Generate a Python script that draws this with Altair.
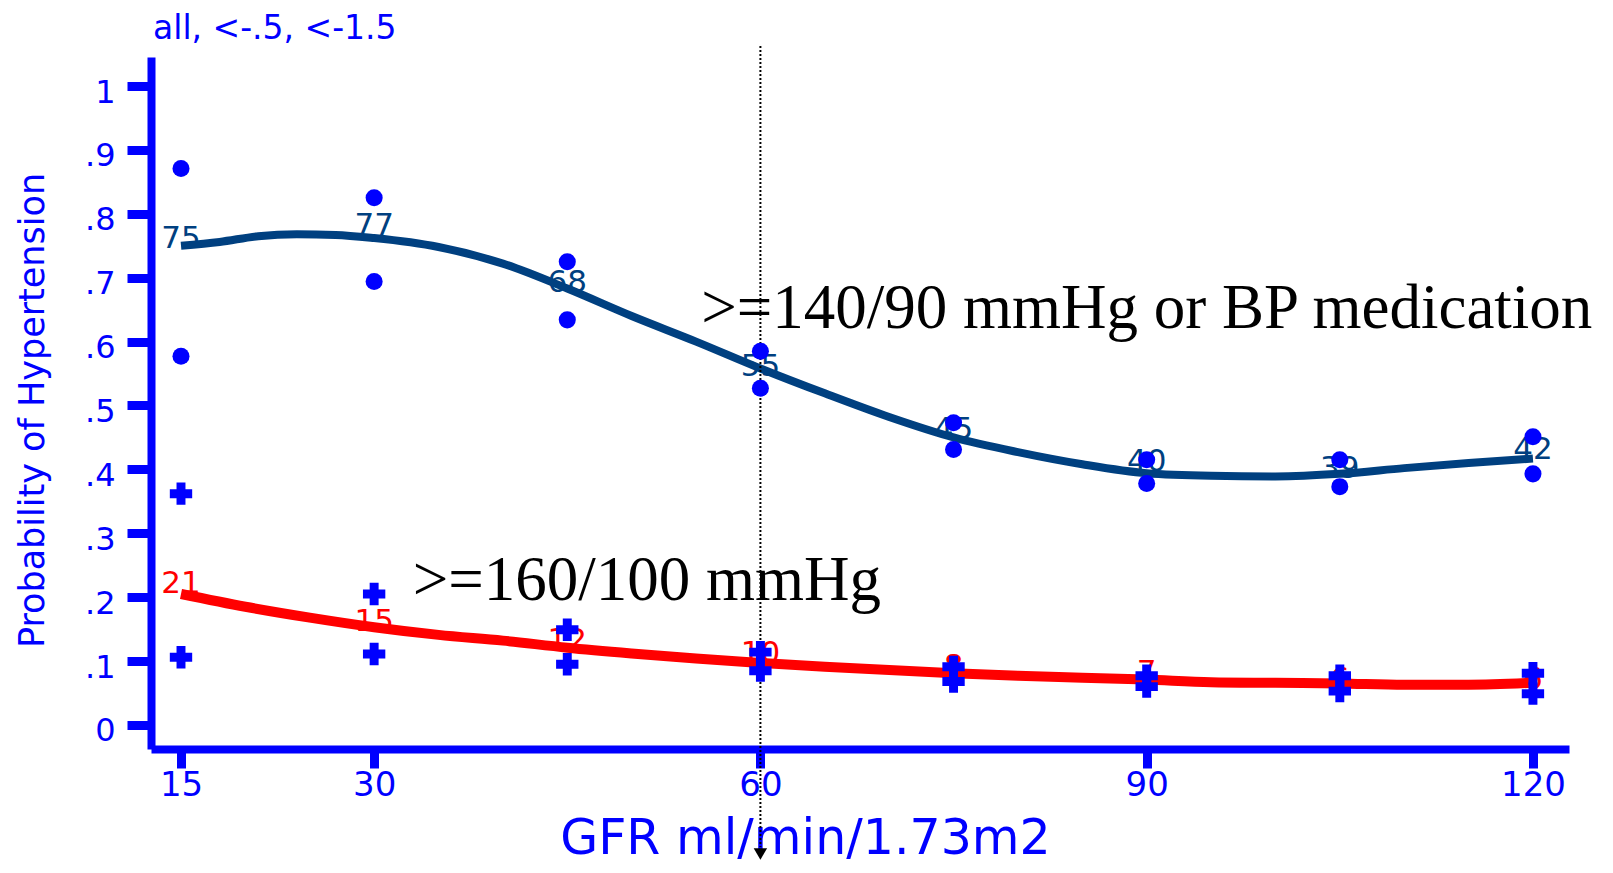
import altair as alt
import pandas as pd

# ---------------- data ----------------
grid_gfr = [15, 30, 45, 60, 75, 90, 105, 120]
label_140 = [75, 77, 68, 55, 45, 40, 39, 42]
label_160 = [21, 15, 12, 10, 8, 7, 6, 6]

curve140_gfr = [15, 18, 21, 24, 27, 30, 35, 40, 45, 50, 55, 60, 65, 70,
                75, 80, 85, 90, 95, 100, 105, 110, 115, 120]
curve140_p = [0.750, 0.756, 0.765, 0.768, 0.767, 0.762, 0.748, 0.722, 0.683,
              0.640, 0.600, 0.558, 0.519, 0.482, 0.450, 0.427, 0.408, 0.394,
              0.390, 0.389, 0.393, 0.402, 0.410, 0.417]

curve160_gfr = [15, 20, 25, 30, 35, 40, 45, 50, 55, 60, 65, 70, 75, 80, 85,
                90, 95, 100, 105, 110, 115, 120]
curve160_p = [0.205, 0.185, 0.168, 0.153, 0.141, 0.132, 0.121, 0.112, 0.104,
              0.097, 0.091, 0.086, 0.081, 0.077, 0.074, 0.071, 0.067, 0.066,
              0.065, 0.063, 0.063, 0.066]

point_gfr = [15, 15, 30, 30, 45, 45, 60, 60, 75, 75, 90, 90, 105, 105, 120, 120]
dot_p = [0.871, 0.577, 0.825, 0.694, 0.725, 0.634, 0.585, 0.527,
         0.473, 0.431, 0.415, 0.378, 0.415, 0.373, 0.451, 0.393]
cross_p = [0.362, 0.106, 0.205, 0.111, 0.149, 0.095, 0.114, 0.085,
           0.091, 0.068, 0.077, 0.060, 0.077, 0.053, 0.081, 0.049]

x_ticks = [15, 30, 60, 90, 120]
y_ticks = [0, 0.1, 0.2, 0.3, 0.4, 0.5, 0.6, 0.7, 0.8, 0.9, 1.0]

annot_text = [">=140/90 mmHg or BP medication", ">=160/100 mmHg"]
annot_gfr = [55.4, 33.0]
annot_p = [0.621, 0.196]

marker_gfr = [60]
top_note = ["all, <-.5, <-1.5"]

# ---------------- styling ----------------
BLUE = "#0000FF"
NAVY = "#004080"
RED = "#FF0000"

x_scale = alt.Scale(domain=[12.67, 122.8], nice=False, zero=False)
y_scale = alt.Scale(domain=[-0.0376, 1.0454], nice=False, zero=False)

x_axis = alt.Axis(
    values=x_ticks, title="GFR ml/min/1.73m2", grid=False,
    domainColor=BLUE, domainWidth=8,
    tickColor=BLUE, tickWidth=9, tickSize=19,
    labelColor=BLUE, labelFont="DejaVu Sans", labelFontSize=34,
    labelPadding=0, labelFlush=False, labelBaseline="top", labelOverlap=False,
    titleColor=BLUE, titleFont="DejaVu Sans", titleFontSize=49,
    titleFontWeight="normal", titleX=654, titleY=104,
    titleAlign="center", titleBaseline="alphabetic",
)
y_axis = alt.Axis(
    values=y_ticks, title="Probability of Hypertension", grid=False,
    labelExpr="replace(format(datum.value, '.1~f'), '0.', '.')",
    domainColor=BLUE, domainWidth=8,
    tickColor=BLUE, tickWidth=9, tickSize=24,
    labelColor=BLUE, labelFont="DejaVu Sans", labelFontSize=32,
    labelPadding=12, labelOffset=6, labelFlush=False, labelOverlap=False,
    titleColor=BLUE, titleFont="DejaVu Sans", titleFontSize=35,
    titleFontWeight="normal", titleX=-108, titleY=353, titleAngle=270,
    titleAlign="center", titleBaseline="alphabetic",
)


def X(field):
    return alt.X(field, type="quantitative", scale=x_scale, axis=x_axis)


def Y(field):
    return alt.Y(field, type="quantitative", scale=y_scale, axis=y_axis)


df140 = pd.DataFrame({"gfr": curve140_gfr, "p": curve140_p})
df160 = pd.DataFrame({"gfr": curve160_gfr, "p": curve160_p})
lab140 = pd.DataFrame({"gfr": grid_gfr, "lab": label_140,
                       "p": [v / 100 for v in label_140]})
lab160 = pd.DataFrame({"gfr": grid_gfr, "lab": label_160,
                       "p": [v / 100 for v in label_160]})
dots = pd.DataFrame({"gfr": point_gfr, "p": dot_p})
crosses = pd.DataFrame({"gfr": point_gfr, "p": cross_p})
annots = pd.DataFrame({"gfr": annot_gfr, "p": annot_p, "t": annot_text})
marker = pd.DataFrame({"gfr": marker_gfr})
note = pd.DataFrame({"t": top_note})

line140 = alt.Chart(df140).mark_line(
    color=NAVY, strokeWidth=8, interpolate="monotone"
).encode(x=X("gfr"), y=Y("p"))

line160 = alt.Chart(df160).mark_line(
    color=RED, strokeWidth=10, interpolate="monotone"
).encode(x=X("gfr"), y=Y("p"))

text140 = alt.Chart(lab140).mark_text(
    font="DejaVu Sans", fontSize=31, color=NAVY, align="center",
    baseline="alphabetic", dy=2
).encode(x=X("gfr"), y=Y("p"), text="lab:N")

text160 = alt.Chart(lab160).mark_text(
    font="DejaVu Sans", fontSize=31, color=RED, align="center",
    baseline="alphabetic", dy=2
).encode(x=X("gfr"), y=Y("p"), text="lab:N")

dot_layer = alt.Chart(dots).mark_point(
    shape="circle", filled=True, size=290, color=BLUE, opacity=1
).encode(x=X("gfr"), y=Y("p"))

cross_layer = alt.Chart(crosses).mark_point(
    shape="cross", filled=True, size=500, color=BLUE, opacity=1
).encode(x=X("gfr"), y=Y("p"))

annot_layer = alt.Chart(annots).mark_text(
    font="Liberation Serif", fontSize=63, color="black", align="left",
    baseline="alphabetic"
).encode(x=X("gfr"), y=Y("p"), text="t:N")

rule_layer = alt.Chart(marker).mark_rule(
    color="black", strokeWidth=2, strokeDash=[2, 2]
).encode(x=X("gfr"), y=alt.value(-11), y2=alt.value(790))

arrow_layer = alt.Chart(marker).mark_point(
    shape="triangle-down", filled=True, size=180, color="black", opacity=1
).encode(x=X("gfr"), y=alt.value(797))

note_layer = alt.Chart(note).mark_text(
    font="DejaVu Sans", fontSize=33, color=BLUE, align="left",
    baseline="alphabetic"
).encode(x=alt.value(2), y=alt.value(-18), text="t:N")

chart = alt.layer(
    line140, line160, text140, text160, rule_layer, arrow_layer,
    dot_layer, cross_layer, annot_layer, note_layer
).properties(
    width=1418, height=692,
    autosize=alt.AutoSizeParams(type="none"),
    padding={"left": 143, "top": 49, "right": 36, "bottom": 116},
    background="white",
).configure_view(stroke=None)

chart.save("out.html", embed_options={"renderer": "svg", "actions": False})
